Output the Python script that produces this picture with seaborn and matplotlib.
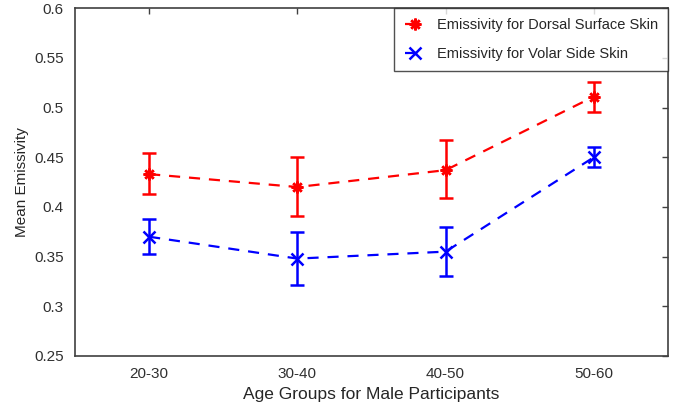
import numpy as np
import pandas as pd
import seaborn as sns
from matplotlib import pyplot as plt

# data
age_groups = ['20-30', '30-40', '40-50', '50-60']
dorsal_mean = [0.433, 0.420, 0.437, 0.511]
dorsal_lo = [0.413, 0.391, 0.409, 0.496]
dorsal_hi = [0.454, 0.450, 0.467, 0.526]
volar_mean = [0.370, 0.348, 0.355, 0.450]
volar_lo = [0.353, 0.321, 0.330, 0.440]
volar_hi = [0.388, 0.375, 0.380, 0.460]
series_names = ['Emissivity for Dorsal Surface Skin', 'Emissivity for Volar Side Skin']

sns.set_style('white')
plt.rcParams['font.family'] = ['Liberation Sans', 'DejaVu Sans']

df = pd.DataFrame({
    'age': age_groups * 2,
    'emissivity': dorsal_mean + volar_mean,
    'series': [series_names[0]] * 4 + [series_names[1]] * 4,
})

fig = plt.figure(figsize=(6.9, 4.08), dpi=100)
ax = fig.add_axes([0.1087, 0.1275, 0.8594, 0.8525])

colors = ['#ff0000', '#0000ff']
ast = (8, 2, 0)  # matlab style asterisk
sns.lineplot(data=df, x='age', y='emissivity', hue='series', style='series',
             palette=colors, markers=[ast, 'x'], dashes=[(5, 4), (5, 4)],
             markersize=8.5, markeredgewidth=1.8, linewidth=1.6, sort=False, ax=ax)

# seaborn paints marker edges white, use the line colour instead
for ln in ax.lines:
    ln.set_markeredgecolor(ln.get_color())

for means, lo, hi, c in [(dorsal_mean, dorsal_lo, dorsal_hi, colors[0]),
                         (volar_mean, volar_lo, volar_hi, colors[1])]:
    m = np.array(means)
    yerr = [m - np.array(lo), np.array(hi) - m]
    ax.errorbar(np.arange(4), m, yerr=yerr, fmt='none', ecolor=c,
                elinewidth=1.8, capsize=5, capthick=1.8, zorder=3)

ax.set_xlim(-0.5, 3.5)
ax.set_ylim(0.25, 0.6)
ax.set_yticks(np.arange(0.25, 0.601, 0.05))
ax.set_yticklabels(['0.25', '0.3', '0.35', '0.4', '0.45', '0.5', '0.55', '0.6'])
ax.tick_params(direction='in', length=4, width=1, colors='#404040',
               top=True, right=True, labelsize=11, pad=8)
for lab in ax.get_xticklabels() + ax.get_yticklabels():
    lab.set_color('#303030')
for s in ax.spines.values():
    s.set_color('#404040')
    s.set_linewidth(1.2)
ax.set_xlabel('Age Groups for Male Participants', fontsize=12.5, color='#262626')
ax.set_ylabel('Mean Emissivity', fontsize=11, color='#262626')

leg = ax.legend(loc='upper right', frameon=True, fontsize=10.5, handlelength=1.4,
                handletextpad=0.8, labelspacing=1.0, borderpad=0.7,
                borderaxespad=0, fancybox=False, edgecolor='#262626')
leg.get_frame().set_linewidth(1.0)
for h in leg.legend_handles:
    h.set_markeredgecolor(h.get_color())

fig.savefig('out.png', dpi=100)
